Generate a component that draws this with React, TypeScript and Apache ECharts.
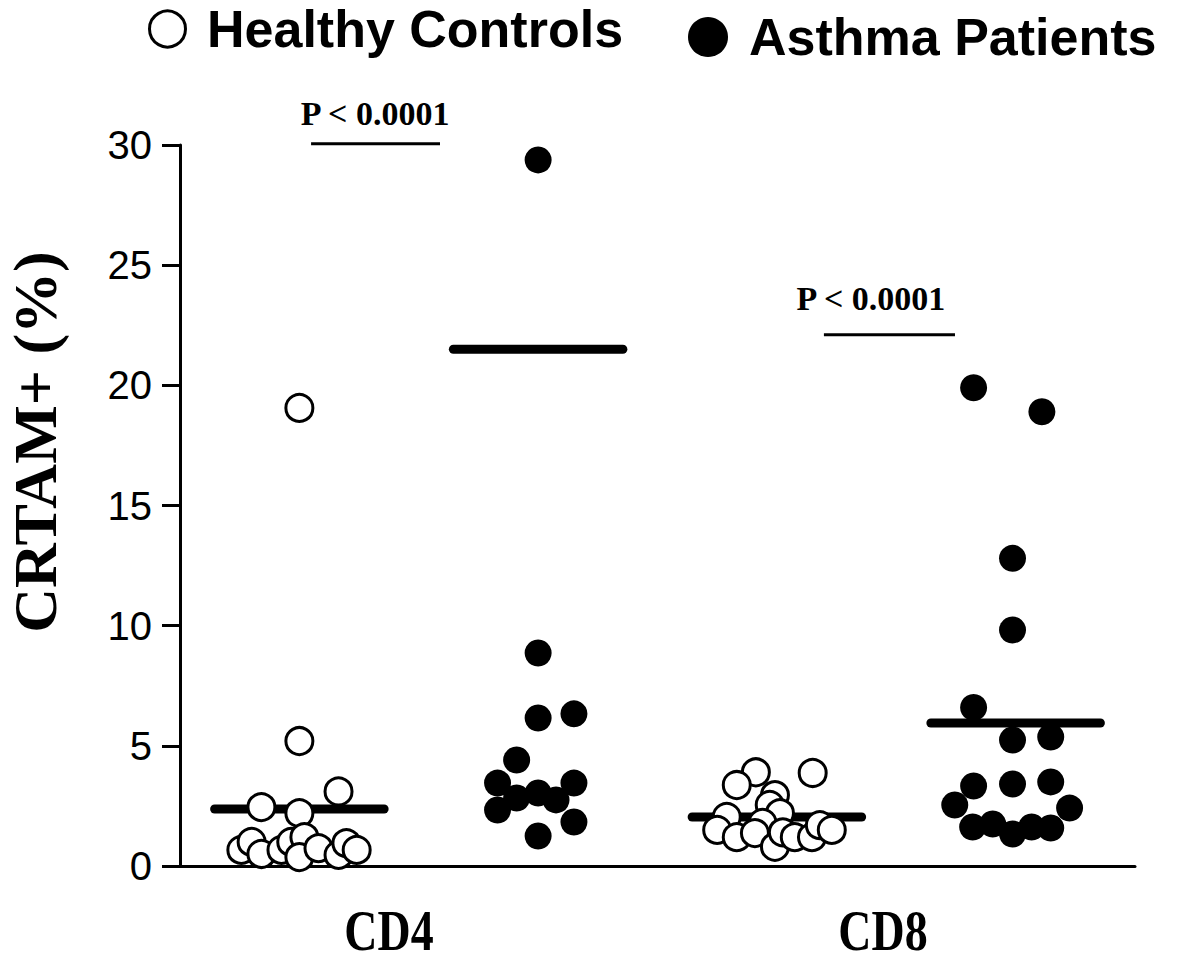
import React, { useEffect, useRef } from "react";
import * as echarts from "echarts";

// ---- data ----
const categories = ["CD4", "CD8"];
const groupNames = ["Healthy Controls", "Asthma Patients"];
const groupCenters = [0.5, 1.5, 2.5, 3.5]; // CD4-HC, CD4-AP, CD8-HC, CD8-AP

const cd4HealthyValues = [19.06, 5.2, 3.1, 2.45, 2.2, 0.67, 1.0, 0.5, 0.67, 1.0, 1.2, 0.37, 0.74, 0.46, 0.95, 0.67];
const cd4HealthyJitter = [0, 0, 0.164, -0.159, 0, -0.243, -0.2, -0.159, -0.075, -0.034, 0.021, 0, 0.08, 0.164, 0.197, 0.24];

const cd4AsthmaValues = [29.38, 8.86, 6.16, 6.33, 4.41, 3.45, 3.45, 2.83, 3.04, 2.75, 2.33, 1.83, 1.25];
const cd4AsthmaJitter = [0, 0, 0, 0.15, -0.09, -0.17, 0.15, -0.09, 0, 0.075, -0.17, 0.15, 0];

const cd8HealthyValues = [3.9, 3.37, 3.87, 2.95, 2.54, 2.04, 2.2, 1.79, 1.5, 1.2, 1.37, 0.8, 1.4, 1.2, 1.2, 1.7, 1.5];
const cd8HealthyJitter = [-0.088, -0.168, 0.15, -0.008, -0.03, -0.21, 0.013, -0.06, -0.25, -0.168, -0.092, -0.008, 0.025, 0.075, 0.147, 0.18, 0.23];

const cd8AsthmaValues = [19.9, 18.9, 12.8, 9.82, 6.6, 5.24, 5.37, 3.33, 3.41, 3.5, 2.54, 2.41, 1.62, 1.75, 1.33, 1.62, 1.58];
const cd8AsthmaJitter = [-0.176, 0.11, -0.013, -0.013, -0.176, -0.013, 0.147, -0.176, -0.013, 0.147, -0.255, 0.226, -0.18, -0.096, -0.013, 0.067, 0.147];

const groupMeans = [2.37, 21.5, 2.04, 5.95];

const pValueLabels = ["P < 0.0001", "P < 0.0001"];
const bracketLevels = [30.05, 22.1];
const bracketSpans = [[0.549, 1.089], [2.697, 3.246]];
const pLabelAnchors = [[0.817, 31.29], [2.894, 23.6]];

const yTicks = [0, 5, 10, 15, 20, 25, 30];
const yTitle = "CRTAM+ (%)";

// ---- helpers ----
const pts = (center: number, vals: number[], jit: number[]) =>
  vals.map((v, i) => [center + jit[i], v]);

const MEAN_HALF = 0.355;
const SERIF = "'Liberation Serif', 'Times New Roman', serif";
const SANS = "'Liberation Sans', Arial, Helvetica, sans-serif";

export default function App() {
  const ref = useRef<HTMLDivElement>(null);
  useEffect(() => {
    if (!ref.current) return;
    const chart = echarts.init(ref.current, undefined, { renderer: "svg" });

    const openStyle = { color: "#ffffff", borderColor: "#000000", borderWidth: 3, opacity: 1 };
    const filledStyle = { color: "#000000", borderColor: "#000000", borderWidth: 0, opacity: 1 };

    const meanSeries = groupMeans.map((m, i) => ({
      type: "line",
      name: "mean" + i,
      data: [
        [groupCenters[i] - MEAN_HALF, m],
        [groupCenters[i] + MEAN_HALF, m],
      ],
      symbol: "none",
      silent: true,
      z: 2,
      lineStyle: { color: "#000", width: 9, cap: "round", opacity: 1 },
    }));

    const bracketSeries = bracketLevels.map((lvl, i) => ({
      type: "line",
      name: "bracket" + i,
      data: [
        [bracketSpans[i][0], lvl],
        [bracketSpans[i][1], lvl],
      ],
      symbol: "none",
      clip: false,
      silent: true,
      z: 2,
      lineStyle: { color: "#000", width: 3, opacity: 1 },
    }));

    const pLabelSeries = {
      type: "scatter",
      name: "pvalues",
      clip: false,
      symbolSize: 0,
      silent: true,
      itemStyle: { opacity: 1 },
      data: pLabelAnchors.map((a, i) => ({ value: a, label: { formatter: pValueLabels[i] } })),
      label: {
        show: true,
        position: "inside",
        color: "#000",
        opacity: 1,
        fontFamily: SERIF,
        fontWeight: "bold",
        fontSize: 34,
      },
      z: 4,
    };

    const scatterBase = { type: "scatter", symbol: "circle", symbolSize: 27, z: 3, clip: false };

    const legendText = {
      fontSize: 52,
      lineHeight: 40,
      fontWeight: "bold",
      fontFamily: SANS,
      color: "#000",
      padding: [0, 0, 0, 16],
    };

    chart.setOption({
      animation: false,
      backgroundColor: "#ffffff",
      grid: { left: 180, right: 65, top: 145, bottom: 95 },
      legend: [
        {
          data: [groupNames[0]],
          left: 148,
          top: 3,
          padding: 0,
          itemWidth: 37,
          itemHeight: 36,
          itemStyle: { borderWidth: 3 },
          textStyle: legendText,
          selectedMode: false,
        },
        {
          data: [groupNames[1]],
          left: 688,
          top: 11,
          padding: 0,
          itemWidth: 40,
          itemHeight: 40,
          textStyle: legendText,
          selectedMode: false,
        },
      ],
      xAxis: {
        type: "value",
        min: 0,
        max: 4,
        axisLine: { show: true, lineStyle: { color: "#000", width: 3 } },
        axisTick: { show: false },
        axisLabel: { show: false },
        splitLine: { show: false },
      },
      yAxis: {
        type: "value",
        min: yTicks[0],
        max: yTicks[yTicks.length - 1],
        interval: 5,
        axisLine: { show: true, lineStyle: { color: "#000", width: 3 } },
        axisTick: { show: true, length: 18, lineStyle: { color: "#000", width: 3 } },
        axisLabel: { color: "#000", fontSize: 40, fontFamily: SANS, margin: 28 },
        splitLine: { show: false },
      },
      graphic: [
        {
          type: "text",
          x: 35,
          y: 442,
          rotation: Math.PI / 2,
          style: {
            text: yTitle,
            font: `bold 62px ${SERIF}`,
            fill: "#000",
            textAlign: "center",
            textVerticalAlign: "middle",
          },
        },
        {
          type: "text",
          x: 389,
          y: 931,
          scaleX: 0.82,
          style: {
            text: categories[0],
            font: `bold 56px ${SERIF}`,
            fill: "#000",
            textAlign: "center",
            textVerticalAlign: "middle",
          },
        },
        {
          type: "text",
          x: 883,
          y: 931,
          scaleX: 0.82,
          style: {
            text: categories[1],
            font: `bold 56px ${SERIF}`,
            fill: "#000",
            textAlign: "center",
            textVerticalAlign: "middle",
          },
        },
      ],
      series: [
        ...meanSeries,
        ...bracketSeries,
        { ...scatterBase, name: groupNames[0], itemStyle: openStyle, data: pts(groupCenters[0], cd4HealthyValues, cd4HealthyJitter) },
        { ...scatterBase, name: groupNames[1], itemStyle: filledStyle, data: pts(groupCenters[1], cd4AsthmaValues, cd4AsthmaJitter) },
        { ...scatterBase, name: groupNames[0], itemStyle: openStyle, data: pts(groupCenters[2], cd8HealthyValues, cd8HealthyJitter) },
        { ...scatterBase, name: groupNames[1], itemStyle: filledStyle, data: pts(groupCenters[3], cd8AsthmaValues, cd8AsthmaJitter) },
        pLabelSeries,
      ],
    });
    return () => chart.dispose();
  }, []);

  return (
    <div
      ref={ref}
      style={{ position: "fixed", left: 0, top: 0, width: 1200, height: 961, background: "#fff" }}
    />
  );
}
